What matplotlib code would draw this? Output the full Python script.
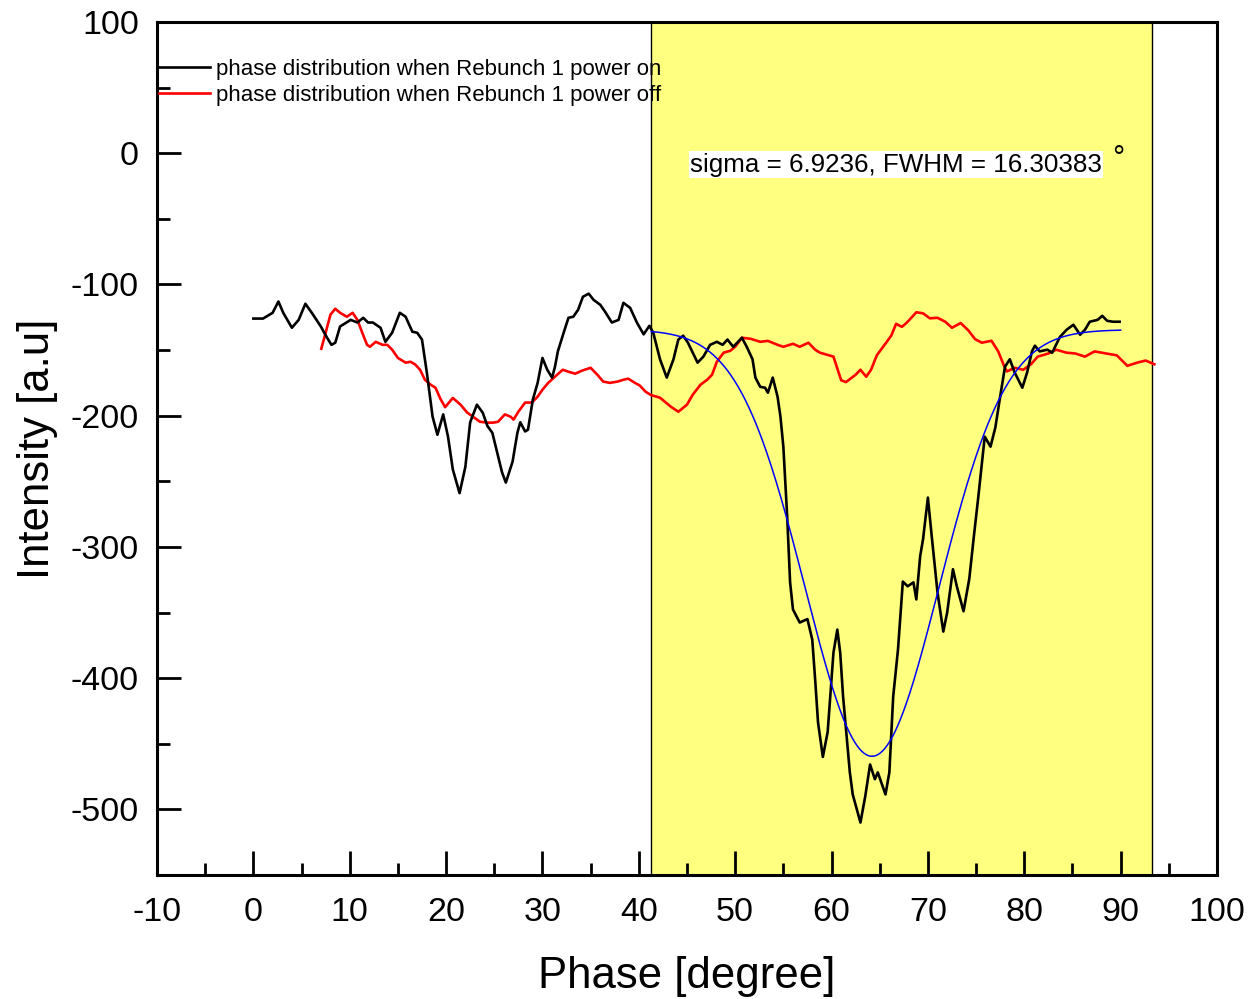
import numpy as np
import matplotlib
matplotlib.use("Agg")
import matplotlib.pyplot as plt

plt.rcParams['font.family'] = ['Liberation Sans', 'DejaVu Sans']
plt.rcParams['axes.unicode_minus'] = False

# phase distribution, Rebunch 1 power on (black)
on_x = [0.0, 1.0, 2.0, 2.6, 3.1, 4.0, 4.7, 5.4, 6.1, 7.0, 7.6, 8.1, 8.5, 9.0, 10.1, 10.8,
        11.4, 11.9, 12.4, 13.2, 13.7, 14.4, 15.2, 15.8, 16.5, 17.0, 17.5, 18.0, 18.6, 19.1,
        19.7, 20.2, 20.7, 21.4, 22.0, 22.5, 23.2, 23.8, 24.3, 24.8, 25.3, 25.8, 26.2, 26.9,
        27.4, 27.7, 28.2, 28.5, 29.0, 29.5, 30.0, 30.5, 31.0, 31.3, 31.6, 32.2, 32.7, 33.2,
        33.7, 34.2, 34.8, 35.3, 36.0, 36.5, 37.2, 37.9, 38.4, 39.1, 39.8, 40.5, 41.1, 41.5,
        42.2, 42.9, 43.6, 44.1, 44.6, 45.1, 46.1, 46.7, 47.4, 48.1, 48.7, 49.2, 49.8, 50.7,
        51.2, 51.8, 52.1, 52.6, 53.1, 53.4, 53.9, 54.4, 54.7, 55.0, 55.4, 55.7, 56.0, 56.7,
        57.5, 58.0, 58.3, 58.6, 59.1, 59.6, 60.2, 60.6, 60.9, 61.2, 61.6, 61.9, 62.2, 63.0,
        63.5, 64.0, 64.5, 64.8, 65.6, 66.0, 66.4, 66.9, 67.4, 67.9, 68.5, 68.8, 69.2, 69.5,
        70.0, 70.4, 71.0, 71.6, 72.0, 72.6, 73.0, 73.7, 74.3, 74.8, 75.2, 75.5, 75.9, 76.5,
        77.0, 77.5, 78.0, 78.5, 79.0, 79.8, 80.3, 80.8, 81.1, 81.6, 82.4, 82.9, 83.2, 83.7,
        84.4, 85.1, 85.8, 86.3, 86.8, 87.6, 88.1, 88.6, 89.2, 89.9]
on_y = [-126, -126, -121.6, -113, -121.6, -133, -127, -114.7, -122, -132, -140, -146, -144.4,
        -132, -127, -129, -125.4, -129, -129, -133, -143.7, -136.8, -121.6, -124.6, -136,
        -136.8, -142, -167, -200.8, -214.5, -199, -216, -241, -259, -239, -205, -191.6,
        -197.7, -208, -213, -228, -243, -251, -235, -213, -205, -212, -210.7, -187.8, -175,
        -156, -165, -171, -162.7, -151, -136.8, -125.4, -124.6, -119.3, -109.4, -107, -111.7,
        -115.5, -120.8, -129, -127, -114, -117.8, -129, -138, -131.5, -136.8, -157, -171,
        -157, -142, -139, -144.4, -159.6, -155, -146, -143.7, -146, -142, -147.5, -140.6,
        -147.5, -157, -171, -178, -178.7, -182.5, -171, -185.5, -200.8, -223.6, -277, -327,
        -347.7, -357.6, -355, -370.6, -401, -433.8, -460, -441, -380.5, -363, -380.5, -414,
        -446.7, -471.8, -488.6, -510, -490, -465.8, -477, -471.8, -488.6, -471.8, -414, -378,
        -326.4, -330, -327, -340, -307, -294, -262.4, -292, -334.8, -364.5, -350, -317, -330,
        -349, -324, -290, -264, -243.4, -216, -223.6, -209, -185.5, -162.7, -157, -167,
        -178.7, -167, -151, -146.7, -151, -149.7, -152, -147.5, -140, -134.5, -130.7, -138.3,
        -134.5, -128.4, -127, -123.9, -127.7, -128.4, -128.4]

# phase distribution, Rebunch 1 power off (red)
off_x = [7.05, 7.5, 8.0, 8.5, 9.0, 9.7, 10.3, 10.8, 11.3, 11.8, 12.1, 12.7, 13.4, 13.9, 14.4,
         15.0, 15.8, 16.3, 16.8, 17.3, 17.8, 18.4, 18.9, 19.4, 19.9, 20.7, 21.5, 22.2, 22.8,
         23.5, 24.3, 24.9, 25.4, 26.1, 26.7, 27.0, 27.5, 28.2, 28.9, 29.5, 30.0, 30.6, 31.3,
         32.1, 32.7, 33.4, 34.1, 35.0, 35.7, 36.3, 37.0, 37.8, 38.4, 38.9, 39.6, 40.1, 40.7,
         41.2, 41.5, 42.2, 43.3, 44.1, 45.0, 45.6, 46.4, 47.1, 47.6, 48.1, 48.8, 49.5, 50.0,
         50.7, 51.6, 52.6, 53.4, 54.4, 55.0, 56.0, 56.7, 57.6, 58.3, 58.8, 60.2, 61.0, 61.5,
         62.5, 63.0, 63.6, 64.1, 64.7, 65.4, 66.2, 66.7, 67.3, 67.8, 68.8, 69.5, 70.2, 71.0,
         71.8, 72.5, 73.4, 74.2, 74.9, 75.6, 76.6, 77.3, 77.9, 78.2, 79.0, 79.9, 80.7, 81.4,
         82.5, 83.3, 84.4, 85.3, 86.3, 87.3, 88.5, 89.6, 90.7, 91.8, 92.6, 93.5]
off_y = [-149, -136.8, -123, -118.5, -121.6, -124.6, -121.6, -127, -136.8, -146, -147.5,
         -143.7, -146, -146, -149.7, -156, -159.6, -158.9, -161, -165, -172.6, -176.4, -178.7,
         -187, -193.5, -186.5, -191.6, -197.7, -200.8, -204.6, -205.3, -205.3, -204.6, -199,
         -200.8, -203, -197, -190, -190, -185.5, -180.2, -175, -170.3, -165, -166.5, -168,
         -165.7, -163.5, -168.8, -174, -175, -174, -172.6, -171.8, -175, -177, -181.7, -184,
         -184.8, -186.3, -193, -197, -191.6, -184, -176.4, -172.6, -168.8, -158.9, -152,
         -150.5, -147.5, -140.6, -141.4, -143.7, -143, -146, -147.5, -145.2, -147.5, -144.4,
         -149.7, -152, -155, -173, -174.4, -168.8, -165, -170.3, -165, -154, -147, -139, -130,
         -132.3, -129.2, -121.2, -122, -125.8, -125.4, -128.4, -133, -129.4, -135, -141.7,
         -144.4, -142.9, -151, -162, -166.3, -163.5, -165, -160.8, -155, -152.6, -149.7, -152,
         -152.6, -155, -151, -152.6, -154, -162, -159.4, -158, -160.8]

# Gaussian fit parameters (blue)
fit_y0 = -134.5
fit_A = -325.0
fit_xc = 64.2
fit_sigma = 6.9236
fit_range = (41.3, 90.0)

# highlighted fit window
span = (41.3, 93.26)

fig = plt.figure(figsize=(12.51, 9.99), dpi=100)
ax = fig.add_axes([0.1255, 0.1241, 0.8473, 0.8539])

ax.axvspan(span[0], span[1], facecolor='#FFFF80', edgecolor='black', linewidth=1.0, zorder=0)

ax.plot(on_x, on_y, color='black', lw=1.9, label='phase distribution when Rebunch 1 power on', zorder=3)
ax.plot(off_x, off_y, color='#FF0000', lw=1.9, label='phase distribution when Rebunch 1 power off', zorder=2)

xf = np.linspace(fit_range[0], fit_range[1], 400)
yf = fit_y0 + fit_A * np.exp(-(xf - fit_xc) ** 2 / (2 * fit_sigma ** 2))
ax.plot(xf, yf, color='#0000FF', lw=1.1, zorder=4)

ax.set_xlim(-10, 100)
ax.set_ylim(-550, 100)
ax.set_xticks(np.arange(-10, 101, 10))
ax.set_xticks(np.arange(-5, 100, 5), minor=True)
ax.set_yticks(np.arange(-500, 101, 100))
ax.set_yticks(np.arange(-550, 101, 50), minor=True)

ax.tick_params(which='both', direction='in', width=2, labelsize=24.5, top=False, right=False)
ax.tick_params(which='major', length=17)
ax.tick_params(which='minor', length=9)
ax.tick_params(axis='x', pad=16)
ax.tick_params(axis='y', pad=13)
for s in ax.spines.values():
    s.set_linewidth(2.2)

ax.set_xlabel('Phase [degree]', fontsize=31.5, labelpad=20)
ax.set_ylabel('Intensity [a.u]', fontsize=31.5, labelpad=9)

ax.legend(loc='upper left', bbox_to_anchor=(0.002, 0.957), frameon=False, fontsize=16,
          handlelength=2.3, handletextpad=0.25, borderaxespad=0, borderpad=0, labelspacing=0.25)

ax.text(45.3, -8.8, 'sigma = 6.9236, FWHM = 16.30383', fontsize=18.7, va='center', ha='left',
        bbox=dict(facecolor='white', edgecolor='none', pad=1), zorder=5)
ax.text(89.8, -4.5, '°', fontsize=22, va='center', ha='center', zorder=5)

fig.savefig('out.png', dpi=100)
